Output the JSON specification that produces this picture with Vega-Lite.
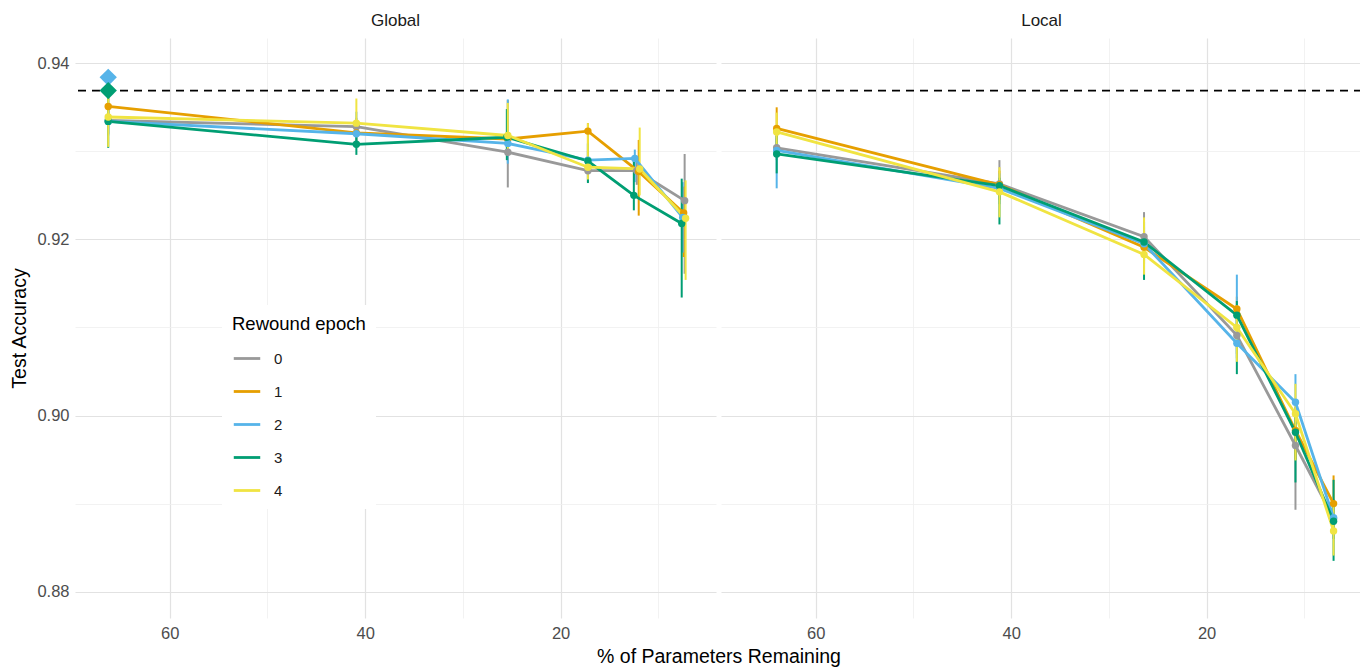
{
  "$schema": "https://vega.github.io/schema/vega-lite/v6.json",
  "padding": {"left": 9, "top": 12, "right": 0, "bottom": 0},
  "background": "white",
  "config": {
    "font": "Liberation Sans",
    "view": {"stroke": null},
    "axis": {"domain": false, "ticks": false, "labelColor": "#4d4d4d", "labelFontSize": 16.5, "titleFontSize": 19.5, "titleFontWeight": "normal", "titleColor": "#000000", "labelOverlap": false},
    "header": {"labelFontSize": 17, "labelColor": "#1a1a1a", "labelPadding": 8, "titleFontSize": 19.5, "titleFontWeight": "normal", "titleColor": "#000000"}
  },
  "data": {"values": [
    {"panel":"Global","kind":"ref","acc":0.9369},
    {"panel":"Local","kind":"ref","acc":0.9369},
    {"panel":"Global","kind":"d","epoch":"2","pct":66.3,"acc":0.9384},
    {"panel":"Global","kind":"d","epoch":"3","pct":66.3,"acc":0.9369},

    {"panel":"Global","kind":"m","epoch":"0","pct":66.3,"acc":0.9335,"lo":0.9320,"hi":0.9350},
    {"panel":"Global","kind":"m","epoch":"0","pct":40.9,"acc":0.9328,"lo":0.9318,"hi":0.9338},
    {"panel":"Global","kind":"m","epoch":"0","pct":25.4,"acc":0.9299,"lo":0.9259,"hi":0.9330},
    {"panel":"Global","kind":"m","epoch":"0","pct":17.2,"acc":0.9278,"lo":0.9265,"hi":0.9292},
    {"panel":"Global","kind":"m","epoch":"0","pct":12.2,"acc":0.9278,"lo":0.9262,"hi":0.9295},
    {"panel":"Global","kind":"m","epoch":"0","pct":7.3,"acc":0.9244,"lo":0.9161,"hi":0.9297},

    {"panel":"Global","kind":"m","epoch":"1","pct":66.3,"acc":0.9351,"lo":0.9338,"hi":0.9364},
    {"panel":"Global","kind":"m","epoch":"1","pct":40.9,"acc":0.9321,"lo":0.9310,"hi":0.9335},
    {"panel":"Global","kind":"m","epoch":"1","pct":25.4,"acc":0.9314,"lo":0.9290,"hi":0.9358},
    {"panel":"Global","kind":"m","epoch":"1","pct":17.2,"acc":0.9323,"lo":0.9278,"hi":0.9332},
    {"panel":"Global","kind":"m","epoch":"1","pct":12.0,"acc":0.9277,"lo":0.9227,"hi":0.9313},
    {"panel":"Global","kind":"m","epoch":"1","pct":7.4,"acc":0.9230,"lo":0.9180,"hi":0.9260},

    {"panel":"Global","kind":"m","epoch":"2","pct":66.3,"acc":0.9334,"lo":0.9318,"hi":0.9352},
    {"panel":"Global","kind":"m","epoch":"2","pct":40.9,"acc":0.9320,"lo":0.9305,"hi":0.9345},
    {"panel":"Global","kind":"m","epoch":"2","pct":25.4,"acc":0.9309,"lo":0.9286,"hi":0.9359},
    {"panel":"Global","kind":"m","epoch":"2","pct":17.2,"acc":0.9290,"lo":0.9280,"hi":0.9300},
    {"panel":"Global","kind":"m","epoch":"2","pct":12.4,"acc":0.9292,"lo":0.9265,"hi":0.9302},
    {"panel":"Global","kind":"m","epoch":"2","pct":7.5,"acc":0.9225,"lo":0.9185,"hi":0.9265},

    {"panel":"Global","kind":"m","epoch":"3","pct":66.3,"acc":0.9334,"lo":0.9304,"hi":0.9372},
    {"panel":"Global","kind":"m","epoch":"3","pct":40.9,"acc":0.9308,"lo":0.9296,"hi":0.9324},
    {"panel":"Global","kind":"m","epoch":"3","pct":25.5,"acc":0.9316,"lo":0.9290,"hi":0.9348},
    {"panel":"Global","kind":"m","epoch":"3","pct":17.2,"acc":0.9289,"lo":0.9264,"hi":0.9309},
    {"panel":"Global","kind":"m","epoch":"3","pct":12.5,"acc":0.9250,"lo":0.9233,"hi":0.9294},
    {"panel":"Global","kind":"m","epoch":"3","pct":7.6,"acc":0.9218,"lo":0.9134,"hi":0.9269},

    {"panel":"Global","kind":"m","epoch":"4","pct":66.3,"acc":0.9339,"lo":0.9305,"hi":0.9362},
    {"panel":"Global","kind":"m","epoch":"4","pct":40.9,"acc":0.9332,"lo":0.9318,"hi":0.9360},
    {"panel":"Global","kind":"m","epoch":"4","pct":25.4,"acc":0.9318,"lo":0.9300,"hi":0.9355},
    {"panel":"Global","kind":"m","epoch":"4","pct":17.2,"acc":0.9282,"lo":0.9268,"hi":0.9332},
    {"panel":"Global","kind":"m","epoch":"4","pct":11.9,"acc":0.9280,"lo":0.9250,"hi":0.9327},
    {"panel":"Global","kind":"m","epoch":"4","pct":7.2,"acc":0.9224,"lo":0.9154,"hi":0.9267},

    {"panel":"Local","kind":"m","epoch":"0","pct":64.0,"acc":0.9304,"lo":0.9290,"hi":0.9318},
    {"panel":"Local","kind":"m","epoch":"0","pct":41.2,"acc":0.9263,"lo":0.9245,"hi":0.9290},
    {"panel":"Local","kind":"m","epoch":"0","pct":26.4,"acc":0.9203,"lo":0.9185,"hi":0.9231},
    {"panel":"Local","kind":"m","epoch":"0","pct":16.9,"acc":0.9091,"lo":0.9070,"hi":0.9110},
    {"panel":"Local","kind":"m","epoch":"0","pct":10.9,"acc":0.8966,"lo":0.8893,"hi":0.8985},
    {"panel":"Local","kind":"m","epoch":"0","pct":7.0,"acc":0.8883,"lo":0.8860,"hi":0.8905},

    {"panel":"Local","kind":"m","epoch":"1","pct":64.0,"acc":0.9326,"lo":0.9305,"hi":0.9350},
    {"panel":"Local","kind":"m","epoch":"1","pct":41.2,"acc":0.9262,"lo":0.9245,"hi":0.9278},
    {"panel":"Local","kind":"m","epoch":"1","pct":26.4,"acc":0.9191,"lo":0.9172,"hi":0.9210},
    {"panel":"Local","kind":"m","epoch":"1","pct":16.9,"acc":0.9121,"lo":0.9100,"hi":0.9135},
    {"panel":"Local","kind":"m","epoch":"1","pct":10.9,"acc":0.8983,"lo":0.8950,"hi":0.9010},
    {"panel":"Local","kind":"m","epoch":"1","pct":7.0,"acc":0.8900,"lo":0.8875,"hi":0.8932},

    {"panel":"Local","kind":"m","epoch":"2","pct":64.0,"acc":0.9301,"lo":0.9258,"hi":0.9315},
    {"panel":"Local","kind":"m","epoch":"2","pct":41.2,"acc":0.9258,"lo":0.9240,"hi":0.9275},
    {"panel":"Local","kind":"m","epoch":"2","pct":26.4,"acc":0.9195,"lo":0.9175,"hi":0.9215},
    {"panel":"Local","kind":"m","epoch":"2","pct":16.9,"acc":0.9082,"lo":0.9065,"hi":0.9160},
    {"panel":"Local","kind":"m","epoch":"2","pct":10.9,"acc":0.9015,"lo":0.8990,"hi":0.9047},
    {"panel":"Local","kind":"m","epoch":"2","pct":7.0,"acc":0.8884,"lo":0.8860,"hi":0.8905},

    {"panel":"Local","kind":"m","epoch":"3","pct":64.0,"acc":0.9297,"lo":0.9275,"hi":0.9318},
    {"panel":"Local","kind":"m","epoch":"3","pct":41.2,"acc":0.9261,"lo":0.9217,"hi":0.9270},
    {"panel":"Local","kind":"m","epoch":"3","pct":26.4,"acc":0.9197,"lo":0.9154,"hi":0.9220},
    {"panel":"Local","kind":"m","epoch":"3","pct":16.9,"acc":0.9114,"lo":0.9047,"hi":0.9130},
    {"panel":"Local","kind":"m","epoch":"3","pct":10.9,"acc":0.8981,"lo":0.8924,"hi":0.9000},
    {"panel":"Local","kind":"m","epoch":"3","pct":7.0,"acc":0.8880,"lo":0.8835,"hi":0.8927},

    {"panel":"Local","kind":"m","epoch":"4","pct":64.0,"acc":0.9322,"lo":0.9300,"hi":0.9344},
    {"panel":"Local","kind":"m","epoch":"4","pct":41.2,"acc":0.9254,"lo":0.9225,"hi":0.9282},
    {"panel":"Local","kind":"m","epoch":"4","pct":26.4,"acc":0.9183,"lo":0.9160,"hi":0.9225},
    {"panel":"Local","kind":"m","epoch":"4","pct":16.9,"acc":0.9100,"lo":0.9061,"hi":0.9125},
    {"panel":"Local","kind":"m","epoch":"4","pct":10.9,"acc":0.9002,"lo":0.8949,"hi":0.9036},
    {"panel":"Local","kind":"m","epoch":"4","pct":7.0,"acc":0.8869,"lo":0.8841,"hi":0.8900}
  ]},
  "facet": {"column": {"field": "panel", "type": "nominal", "title": "% of Parameters Remaining", "sort": ["Global", "Local"],
    "header": {"titleOrient": "bottom", "labelOrient": "top", "titlePadding": -4}}},
  "spacing": 3,
  "spec": {
    "width": 641,
    "height": 580,
    "encoding": {
      "y": {"field": "acc", "type": "quantitative", "title": "Test Accuracy",
        "scale": {"domain": [0.87701, 0.94287], "nice": false, "zero": false},
        "axis": {"values": [0.88, 0.89, 0.90, 0.91, 0.92, 0.93, 0.94],
          "labelExpr": "round(datum.value*100) % 2 === 0 ? format(datum.value, '.2f') : ''",
          "gridColor": {"condition": {"test": "round(datum.value*100) % 2 === 0", "value": "#e2e2e2"}, "value": "#efefef"},
          "gridWidth": {"condition": {"test": "round(datum.value*100) % 2 === 0", "value": 1.2}, "value": 0.8},
          "labelPadding": 5, "titlePadding": 7}}
    },
    "layer": [
      {"transform": [{"filter": "datum.kind === 'ref'"}],
       "mark": {"type": "rule", "strokeDash": [8, 6], "strokeWidth": 1.8, "color": "#000000"},
       "encoding": {}},
      {"transform": [{"filter": "datum.kind === 'm'"}],
       "mark": {"type": "rule", "strokeWidth": 2},
       "encoding": {
         "x": {"field": "pct", "type": "quantitative"},
         "y": {"field": "lo", "type": "quantitative"},
         "y2": {"field": "hi"},
         "color": {"field": "epoch", "type": "nominal"}}},
      {"transform": [{"filter": "datum.kind === 'm'"}],
       "mark": {"type": "line", "strokeWidth": 2.8},
       "encoding": {
         "x": {"field": "pct", "type": "quantitative", "title": null,
           "scale": {"domain": [4.09, 69.7], "reverse": true, "nice": false, "zero": false},
           "axis": {"values": [60, 50, 40, 30, 20, 10],
             "labelExpr": "datum.value % 20 === 0 ? datum.label : ''",
             "gridColor": {"condition": {"test": "datum.value % 20 === 0", "value": "#e2e2e2"}, "value": "#efefef"},
             "gridWidth": {"condition": {"test": "datum.value % 20 === 0", "value": 1.2}, "value": 0.8},
             "labelPadding": 7}},
         "y": {"field": "acc", "type": "quantitative"},
         "color": {"field": "epoch", "type": "nominal",
           "scale": {"domain": ["0", "1", "2", "3", "4"], "range": ["#999999", "#E69F00", "#56B4E9", "#009E73", "#F0E442"]},
           "legend": {"title": "Rewound epoch", "orient": "none", "legendX": 147, "legendY": 267,
             "symbolType": "stroke", "symbolStrokeWidth": 2.8, "symbolSize": 700,
             "titleFontSize": 18.5, "titleFontWeight": "normal", "titleColor": "#000000", "titlePadding": 10,
             "labelFontSize": 15, "labelColor": "#1a1a1a", "labelOffset": 12,
             "rowPadding": 10, "fillColor": "#ffffff", "padding": 10}}}},
      {"transform": [{"filter": "datum.kind === 'm'"}],
       "mark": {"type": "point", "filled": true, "opacity": 1, "size": 55},
       "encoding": {
         "x": {"field": "pct", "type": "quantitative"},
         "y": {"field": "acc", "type": "quantitative"},
         "color": {"field": "epoch", "type": "nominal"}}},
      {"transform": [{"filter": "datum.kind === 'd'"}],
       "mark": {"type": "point", "shape": "diamond", "filled": true, "opacity": 1, "size": 300},
       "encoding": {
         "x": {"field": "pct", "type": "quantitative"},
         "y": {"field": "acc", "type": "quantitative"},
         "color": {"field": "epoch", "type": "nominal"}}}
    ]
  }
}
